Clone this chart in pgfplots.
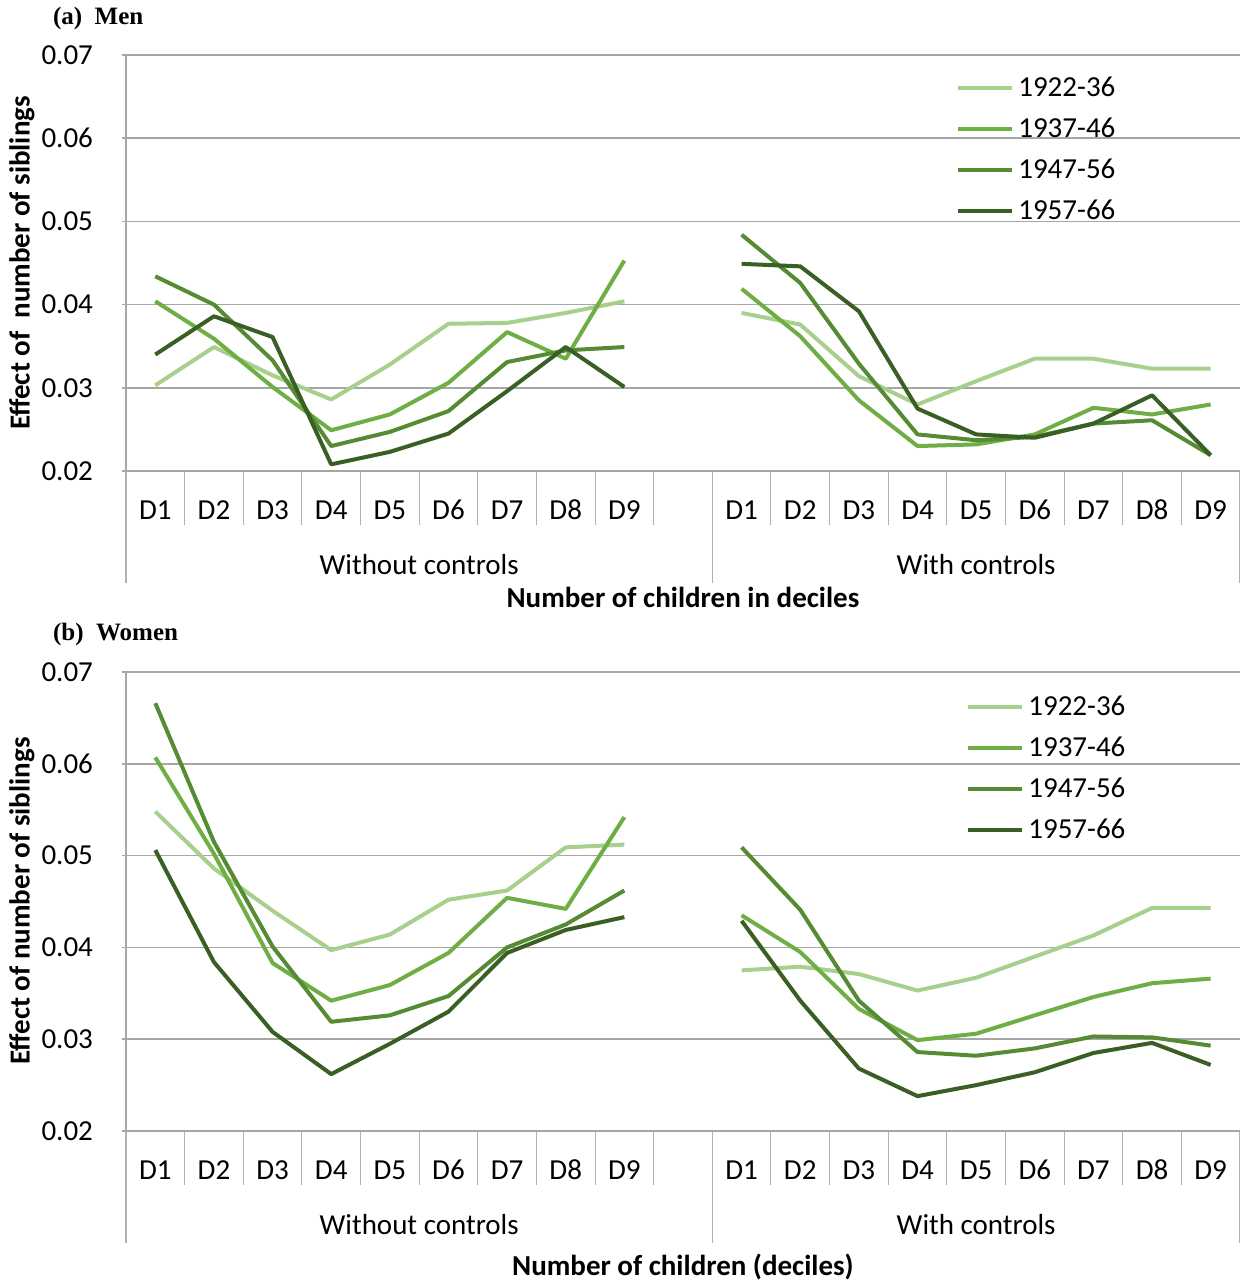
\documentclass[border=0pt]{standalone}
\usepackage{fontspec}
\setmainfont{Carlito}
\newfontfamily\titlefont{Liberation Serif}
\usepackage{pgfplots}
\usepackage{pgfplotstable}
\pgfplotsset{compat=1.18}
\definecolor{cA}{HTML}{A8D08D}
\definecolor{cB}{HTML}{6FAE45}
\definecolor{cC}{HTML}{558B33}
\definecolor{cD}{HTML}{3A5F24}
\definecolor{gridc}{HTML}{A6A6A6}
\definecolor{sepc}{HTML}{B0B0B0}

\pgfplotstableread{
x a b c d
1 0.0303 0.0404 0.0434 0.0340
2 0.0349 0.0359 0.0400 0.0386
3 0.0315 0.0301 0.0333 0.0361
4 0.0286 0.0249 0.0230 0.0208
5 0.0328 0.0268 0.0247 0.0223
6 0.0377 0.0306 0.0272 0.0245
7 0.0378 0.0367 0.0331 0.0296
8 0.0390 0.0335 0.0345 0.0349
9 0.0404 0.0453 0.0349 0.0301
10 nan nan nan nan
11 0.0390 0.0419 0.0484 0.0449
12 0.0376 0.0362 0.0426 0.0446
13 0.0314 0.0285 0.0329 0.0392
14 0.0280 0.0230 0.0244 0.0275
15 0.0308 0.0232 0.0237 0.0244
16 0.0335 0.0244 0.0241 0.0240
17 0.0335 0.0276 0.0257 0.0257
18 0.0323 0.0268 0.0261 0.0291
19 0.0323 0.0280 0.0219 0.0219
}\men

\pgfplotstableread{
x a b c d
1 0.0548 0.0607 0.0666 0.0506
2 0.0486 0.0502 0.0515 0.0384
3 0.0440 0.0383 0.0401 0.0308
4 0.0397 0.0342 0.0319 0.0262
5 0.0414 0.0359 0.0326 0.0295
6 0.0452 0.0394 0.0347 0.0330
7 0.0462 0.0454 0.0400 0.0394
8 0.0509 0.0442 0.0425 0.0419
9 0.0512 0.0542 0.0462 0.0433
10 nan nan nan nan
11 0.0375 0.0435 0.0509 0.0429
12 0.0379 0.0395 0.0441 0.0342
13 0.0371 0.0333 0.0342 0.0268
14 0.0353 0.0299 0.0286 0.0238
15 0.0367 0.0306 0.0282 0.0250
16 0.0390 0.0326 0.0290 0.0264
17 0.0413 0.0346 0.0303 0.0285
18 0.0443 0.0361 0.0302 0.0296
19 0.0443 0.0366 0.0293 0.0272
}\women

\pgfplotsset{
  panel/.style={
    scale only axis,
    width=557pt,
    xmin=0.5, xmax=19.5,
    ymin=0.02, ymax=0.07,
    ytick={0.02,0.03,0.04,0.05,0.06,0.07},
    scaled y ticks=false,
    yticklabel style={/pgf/number format/fixed, /pgf/number format/fixed zerofill, /pgf/number format/precision=2, /pgf/number format/assume math mode=true},
    yticklabel style={font=\fontsize{14.5}{16}\selectfont, anchor=east, xshift=-11pt},
    xtick={1,2,3,4,5,6,7,8,9,11,12,13,14,15,16,17,18,19},
    xticklabels={D1,D2,D3,D4,D5,D6,D7,D8,D9,D1,D2,D3,D4,D5,D6,D7,D8,D9},
    xticklabel style={font=\fontsize{14.5}{16}\selectfont, anchor=center, yshift=-17.5pt},
    x tick style={draw=none},
    y tick style={gridc, line width=0.8pt},
    tick align=outside,
    major tick length=4pt,
    axis x line=bottom, axis y line=left,
    axis line style={-, gridc, line width=0.9pt},
    ymajorgrids,
    grid style={gridc, line width=0.8pt},
    unbounded coords=jump,
    clip=false,
    legend cell align=left,
    legend image code/.code={\draw[#1] (0pt,0pt) -- (27pt,0pt);},
    legend style={draw=none, fill=none, font=\fontsize{14.5}{16}\selectfont, row sep=5.2pt, inner sep=0pt,
      nodes={inner sep=2pt}},
    every axis plot/.append style={line width=2pt, line join=round},
    seps/.style={},
  }
}
\newcommand\separators{%
  \pgfplotsinvokeforeach{1.5,2.5,3.5,4.5,5.5,6.5,7.5,8.5,9.5,11.5,12.5,13.5,14.5,15.5,16.5,17.5,18.5}{
    \draw[sepc, line width=0.5pt] (axis cs:##1,0.02) -- ([yshift=-27pt]axis cs:##1,0.02);}
  \pgfplotsinvokeforeach{0.5,10.5,19.5}{
    \draw[sepc, line width=0.7pt] (axis cs:##1,0.02) -- ([yshift=-56pt]axis cs:##1,0.02);}
  \node[font=\fontsize{14.5}{16}\selectfont] at ([yshift=-47pt]axis cs:5.5,0.02) {Without controls};
  \node[font=\fontsize{14.5}{16}\selectfont] at ([yshift=-47pt]axis cs:15,0.02) {With controls};
}

\begin{document}
\begin{tikzpicture}
\path[use as bounding box] (0,0) rectangle (620pt,-641pt);

% ---------- (a) Men ----------
\node[anchor=west, font=\titlefont\bfseries\fontsize{12.5}{14}\selectfont] at (23pt,-9pt) {(a)\enspace Men};
\begin{axis}[panel, at={(63pt,-235.5pt)}, anchor=south west, height=208pt,
  legend style={at={(rel axis cs:0.745,0.958)}, anchor=north west}]
\addplot[cA] table[x=x,y=a] {\men};
\addplot[cB] table[x=x,y=b] {\men};
\addplot[cC] table[x=x,y=c] {\men};
\addplot[cD] table[x=x,y=d] {\men};
\legend{1922-36,1937-46,1947-56,1957-66}
\separators
\end{axis}
\node[rotate=90, font=\bfseries\fontsize{14.5}{16}\selectfont] at (11pt,-131.5pt) {Effect of \ number of siblings};
\node[font=\bfseries\fontsize{14.5}{16}\selectfont] at (341.5pt,-298.5pt) {Number of children in deciles};

% ---------- (b) Women ----------
\node[anchor=west, font=\titlefont\bfseries\fontsize{12.5}{14}\selectfont] at (23pt,-317pt) {(b)\enspace Women};
\begin{axis}[panel, at={(63pt,-565.5pt)}, anchor=south west, height=229.5pt,
  legend style={at={(rel axis cs:0.754,0.957)}, anchor=north west}]
\addplot[cA] table[x=x,y=a] {\women};
\addplot[cB] table[x=x,y=b] {\women};
\addplot[cC] table[x=x,y=c] {\women};
\addplot[cD] table[x=x,y=d] {\women};
\legend{1922-36,1937-46,1947-56,1957-66}
\separators
\end{axis}
\node[rotate=90, font=\bfseries\fontsize{14.5}{16}\selectfont] at (11pt,-450.5pt) {Effect of number of siblings};
\node[font=\bfseries\fontsize{14.5}{16}\selectfont] at (341.5pt,-633.5pt) {Number of children (deciles)};
\end{tikzpicture}
\end{document}
